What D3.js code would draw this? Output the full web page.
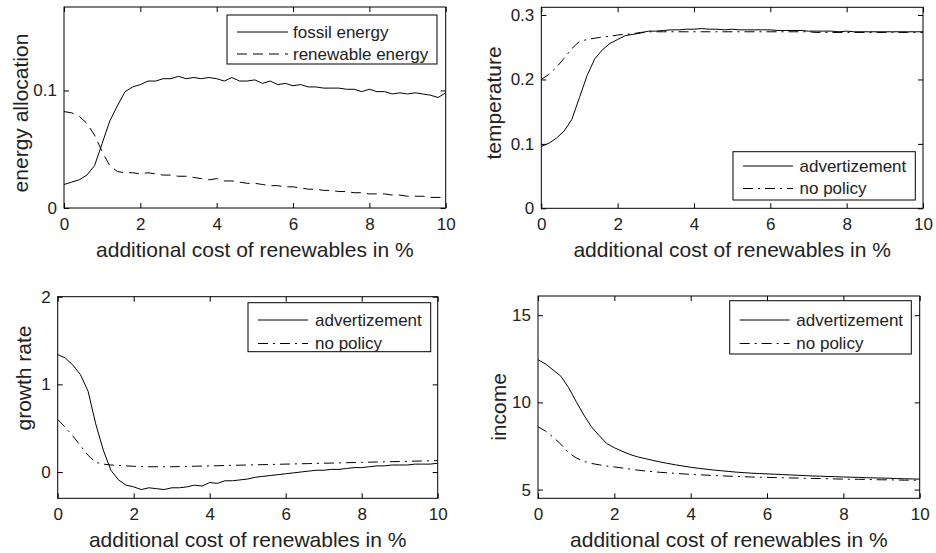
<!DOCTYPE html>
<html>
<head>
<meta charset="utf-8">
<script src="https://cdn.jsdelivr.net/npm/d3@7"></script>
<style>
  html, body { margin: 0; padding: 0; background: #fff; }
  svg { display: block; }
  text { font-family: "Liberation Sans", Arial, Helvetica, sans-serif; fill: #222; }
</style>
</head>
<body>
<svg id="chart" width="936" height="553"></svg>
<script>
// ---------- data ----------
const costs = [0,0.2,0.4,0.6,0.8,1,1.2,1.4,1.6,1.8,2,2.2,2.4,2.6,2.8,3,3.2,3.4,3.6,3.8,4,4.2,4.4,4.6,4.8,5,5.2,5.4,5.6,5.8,6,6.2,6.4,6.6,6.8,7,7.2,7.4,7.6,7.8,8,8.2,8.4,8.6,8.8,9,9.2,9.4,9.6,9.8,10];
const xTicks = [0,2,4,6,8,10];
const xLabel = "additional cost of renewables in %";

const fossilEnergy = [0.020,0.022,0.024,0.028,0.036,0.055,0.074,0.087,0.099,0.103,0.105,0.108,0.108,0.110,0.110,0.112,0.110,0.111,0.110,0.111,0.110,0.108,0.111,0.108,0.108,0.109,0.106,0.108,0.105,0.106,0.104,0.105,0.103,0.103,0.102,0.102,0.102,0.101,0.101,0.099,0.101,0.099,0.099,0.097,0.098,0.097,0.098,0.097,0.096,0.094,0.098];
const renewableEnergy = [0.082,0.081,0.078,0.072,0.062,0.048,0.036,0.031,0.030,0.030,0.029,0.030,0.029,0.028,0.028,0.027,0.027,0.026,0.025,0.024,0.025,0.023,0.023,0.022,0.021,0.021,0.020,0.019,0.019,0.018,0.018,0.017,0.016,0.016,0.015,0.015,0.014,0.014,0.013,0.013,0.012,0.012,0.012,0.011,0.011,0.010,0.010,0.010,0.009,0.009,0.009];

const tempAdvert = [0.096,0.101,0.109,0.120,0.138,0.172,0.206,0.232,0.246,0.256,0.262,0.268,0.270,0.272,0.275,0.275,0.276,0.277,0.277,0.278,0.278,0.279,0.278,0.278,0.277,0.278,0.277,0.277,0.277,0.277,0.277,0.276,0.276,0.276,0.276,0.275,0.275,0.275,0.275,0.274,0.275,0.274,0.274,0.274,0.274,0.274,0.274,0.274,0.274,0.274,0.274];
const tempNoPolicy = [0.200,0.208,0.219,0.233,0.248,0.259,0.262,0.264,0.266,0.267,0.269,0.270,0.271,0.273,0.274,0.274,0.274,0.274,0.274,0.274,0.274,0.274,0.274,0.274,0.274,0.274,0.274,0.274,0.274,0.274,0.274,0.274,0.274,0.274,0.274,0.274,0.273,0.273,0.273,0.273,0.273,0.273,0.273,0.273,0.273,0.273,0.273,0.273,0.273,0.273,0.273];

const growthAdvert = [1.34,1.30,1.22,1.11,0.92,0.55,0.25,0.02,-0.09,-0.15,-0.17,-0.20,-0.18,-0.19,-0.20,-0.18,-0.18,-0.17,-0.15,-0.16,-0.12,-0.13,-0.10,-0.10,-0.09,-0.08,-0.06,-0.05,-0.04,-0.03,-0.02,-0.01,0.00,0.01,0.02,0.02,0.03,0.03,0.04,0.05,0.05,0.06,0.07,0.07,0.08,0.08,0.08,0.09,0.09,0.09,0.10];
const growthNoPolicy = [0.60,0.51,0.41,0.30,0.19,0.11,0.09,0.08,0.075,0.07,0.065,0.062,0.06,0.06,0.06,0.06,0.062,0.064,0.066,0.068,0.07,0.072,0.074,0.076,0.078,0.08,0.082,0.084,0.086,0.088,0.09,0.092,0.094,0.096,0.098,0.10,0.102,0.104,0.106,0.108,0.11,0.112,0.114,0.116,0.118,0.12,0.122,0.124,0.126,0.128,0.13];

const incomeAdvert = [12.45,12.2,11.85,11.5,10.85,10.05,9.28,8.6,8.1,7.64,7.4,7.2,7.02,6.88,6.78,6.68,6.58,6.5,6.42,6.35,6.28,6.22,6.17,6.12,6.08,6.04,6.0,5.97,5.94,5.92,5.9,5.88,5.86,5.84,5.82,5.8,5.78,5.77,5.75,5.74,5.72,5.71,5.7,5.68,5.67,5.66,5.65,5.63,5.62,5.61,5.6];
const incomeNoPolicy = [8.6,8.35,8.0,7.6,7.1,6.82,6.62,6.5,6.42,6.35,6.3,6.24,6.18,6.12,6.07,6.03,5.99,5.96,5.93,5.9,5.87,5.85,5.83,5.81,5.79,5.77,5.75,5.74,5.72,5.71,5.7,5.69,5.68,5.67,5.66,5.65,5.64,5.63,5.62,5.61,5.6,5.59,5.59,5.58,5.57,5.56,5.56,5.55,5.54,5.54,5.53];

// ---------- layout / styles ----------
const SOLID = null, DASHED = "10,6", DASHDOT = "10,5,2,5";
const panels = [
  { box:[64,445.7,7,208], ydom:[0,0.171], yTicks:[0,0.1], yFmt:d=>d===0?"0":d3.format(".1f")(d),
    ylabel:"energy allocation", ylx:27.5, yly:113,
    series:[{v:fossilEnergy,dash:SOLID,name:"fossil energy"},{v:renewableEnergy,dash:DASHED,name:"renewable energy"}],
    legend:{x0:227,x1:437,y0:15,y1:64,s0:237,s1:288,tx:293,r1:32,r2:54} },
  { box:[541.3,923,7.3,208.3], ydom:[0,0.312], yTicks:[0,0.1,0.2,0.3], yFmt:d=>d===0?"0":d3.format(".1f")(d),
    ylabel:"temperature", ylx:501, yly:103,
    series:[{v:tempAdvert,dash:SOLID,name:"advertizement"},{v:tempNoPolicy,dash:DASHDOT,name:"no policy"}],
    legend:{x0:733,x1:915.3,y0:151.7,y1:200,s0:743,s1:793,tx:799.5,r1:166,r2:188.5} },
  { box:[57.7,437.7,296.7,498.3], ydom:[-0.3,2], yTicks:[0,1,2], yFmt:d3.format("d"),
    ylabel:"growth rate", ylx:31, yly:378,
    series:[{v:growthAdvert,dash:SOLID,name:"advertizement"},{v:growthNoPolicy,dash:DASHDOT,name:"no policy"}],
    legend:{x0:248,x1:430.7,y0:302.7,y1:351.7,s0:258,s1:308,tx:315,r1:320,r2:343.5} },
  { box:[538,919.7,296,498.3], ydom:[4.5,16.1], yTicks:[5,10,15], yFmt:d3.format("d"),
    ylabel:"income", ylx:506, yly:407,
    series:[{v:incomeAdvert,dash:SOLID,name:"advertizement"},{v:incomeNoPolicy,dash:DASHDOT,name:"no policy"}],
    legend:{x0:729.7,x1:911.3,y0:300.7,y1:354,s0:739.7,s1:789.7,tx:796.3,r1:320,r2:343.5} }
];

const svg = d3.select("#chart");
const TICK = 5;

panels.forEach(p => {
  const [l, r, t, b] = p.box;
  const x = d3.scaleLinear().domain([0,10]).range([l, r]);
  const y = d3.scaleLinear().domain(p.ydom).range([b, t]);
  const g = svg.append("g");

  // axes (inward ticks, mirrored on top/right)
  const ax = (sel) => { sel.select(".domain").remove(); sel.selectAll(".tick line").attr("stroke","#000").attr("stroke-width",1); };
  g.append("g").attr("transform",`translate(0,${b})`)
    .call(d3.axisBottom(x).tickValues(xTicks).tickSizeInner(-TICK).tickSizeOuter(0).tickPadding(10).tickFormat(d3.format("d")))
    .call(ax)
    .call(s => s.selectAll("text").attr("font-size",17).attr("fill","#222").attr("dy","0.71em"));
  g.append("g").attr("transform",`translate(0,${t})`)
    .call(d3.axisTop(x).tickValues(xTicks).tickSizeInner(-TICK).tickSizeOuter(0).tickFormat(""))
    .call(ax);
  g.append("g").attr("transform",`translate(${l},0)`)
    .call(d3.axisLeft(y).tickValues(p.yTicks).tickSizeInner(-TICK).tickSizeOuter(0).tickPadding(7).tickFormat(p.yFmt))
    .call(ax)
    .call(s => s.selectAll("text").attr("font-size",17).attr("fill","#222"));
  g.append("g").attr("transform",`translate(${r},0)`)
    .call(d3.axisRight(y).tickValues(p.yTicks).tickSizeInner(-TICK).tickSizeOuter(0).tickFormat(""))
    .call(ax);

  // data lines
  const clipId = "clip" + Math.round(l) + "_" + Math.round(t);
  g.append("clipPath").attr("id", clipId).append("rect").attr("x",l).attr("y",t).attr("width",r-l).attr("height",b-t);
  const line = d3.line().x((d,i)=>x(costs[i])).y(d=>y(d));
  p.series.forEach(s => {
    g.append("path").datum(s.v).attr("d", line).attr("fill","none").attr("stroke","#000")
      .attr("stroke-width",1).attr("stroke-dasharray", s.dash).attr("clip-path",`url(#${clipId})`);
  });

  // frame
  g.append("rect").attr("x",l).attr("y",t).attr("width",r-l).attr("height",b-t)
    .attr("fill","none").attr("stroke","#000").attr("stroke-width",1);

  // legend
  const L = p.legend;
  g.append("rect").attr("x",L.x0).attr("y",L.y0).attr("width",L.x1-L.x0).attr("height",L.y1-L.y0)
    .attr("fill","#fff").attr("stroke","#000").attr("stroke-width",1);
  [L.r1, L.r2].forEach((ry, i) => {
    const s = p.series[i];
    g.append("line").attr("x1",L.s0).attr("x2",L.s1).attr("y1",ry).attr("y2",ry)
      .attr("stroke","#000").attr("stroke-width",1).attr("stroke-dasharray", s.dash);
    g.append("text").attr("x",L.tx).attr("y",ry).attr("dy","0.35em").attr("font-size",17).text(s.name);
  });

  // axis labels
  g.append("text").attr("x",(l+r)/2).attr("y",b+49).attr("text-anchor","middle").attr("font-size",21).text(xLabel);
  g.append("text").attr("transform",`translate(${p.ylx},${p.yly}) rotate(-90)`).attr("text-anchor","middle")
    .attr("font-size",21).text(p.ylabel);
});
</script>
</body>
</html>
